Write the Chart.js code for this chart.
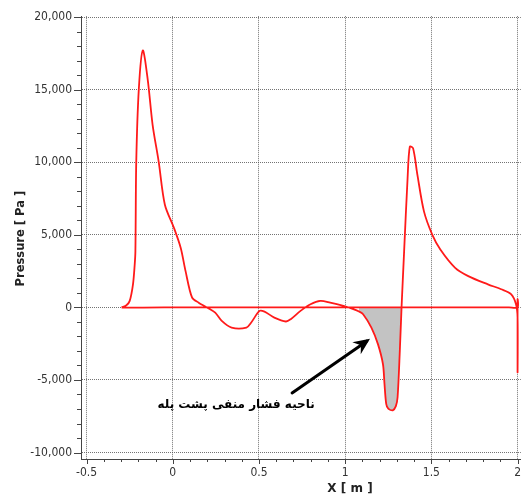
<!DOCTYPE html>
<html>
<head>
<meta charset="utf-8">
<script src="https://cdn.jsdelivr.net/npm/chart.js@4.4.0/dist/chart.umd.min.js"></script>
<style>
  html, body { margin: 0; padding: 0; background: #fff; }
</style>
</head>
<body>
<canvas id="myChart" width="528" height="498"></canvas>
<script>
// pressure along the surface, read off the picture as one closed loop:
// upper side from the nose, down the trailing edge at x = 2, back along the flat side
const surfaceX = [
  -0.297, -0.269, -0.250, -0.231, -0.221, -0.217, -0.212, -0.197, -0.174, -0.145,
  -0.117, -0.082, -0.046, 0.007, 0.046, 0.074, 0.112, 0.150, 0.198, 0.246,
  0.284, 0.341, 0.427, 0.455, 0.503, 0.532, 0.589, 0.656, 0.684, 0.741,
  0.799, 0.856, 0.913, 0.990, 1.047, 1.080, 1.104, 1.152, 1.190, 1.219,
  1.228, 1.238, 1.250, 1.276, 1.294, 1.304, 1.317, 1.327, 1.342, 1.362,
  1.375, 1.394, 1.419, 1.457, 1.505, 1.552, 1.638, 1.714, 1.828, 1.905,
  1.962, 1.991, 2.000, 2.000, 2.000, 2.000, 1.950, 1.500, 1.000, 0.500,
  0.000, -0.050, -0.297
]
const surfacePressure = [
  0, 150, 450, 1590, 2960, 3880, 10050, 15080, 17710, 15650,
  12570, 10050, 7080, 5470, 4100, 2500, 670, 330, 0, -360,
  -930, -1390, -1390, -1040, -240, -290, -700, -970, -810, -240,
  220, 450, 330, 100, -120, -280, -470, -1390, -2530, -3900,
  -5270, -6640, -6980, -7090, -6800, -6190, -2990, 0, 3880, 8900,
  11080, 10960, 9140, 6620, 5020, 3990, 2730, 2160, 1590, 1250,
  910, 220, -700, -4470, 550, 0, 0, 0, 0, 0,
  0, 0, -20
]

const xTicks = [-0.5, 0, 0.5, 1, 1.5, 2]
const yTicks = [-10000, -5000, 0, 5000, 10000, 15000, 20000]

// shaded negative pressure region behind the step
const shadeFrom = 1.08
const shadeTo = 1.33

const noteText = 'ناحیه فشار منفی پشت پله'
const xTitle = 'X [ m ]'
const yTitle = 'Pressure [ Pa ]'

const points = surfaceX.map((x, i) => ({ x: x, y: surfacePressure[i] }))
// only the upper side dips below zero in this range
const shaded = points.filter(p => p.x >= shadeFrom && p.x <= shadeTo && p.y < 0 || (p.x === 1.327))

const fontTicks = '"DejaVu Sans Condensed", "DejaVu Sans", sans-serif'

// minor ticks, axis titles and the note with its arrow
const decor = {
  id: 'decor',
  afterDraw(chart) {
    const { ctx, chartArea } = chart
    const x = chart.scales.x
    const y = chart.scales.y
    ctx.save()

    ctx.strokeStyle = '#444'
    ctx.lineWidth = 1
    ctx.beginPath()
    for (let i = 0; i <= 25; i++) {
      const px = Math.round(x.getPixelForValue(-0.5 + i * 0.1)) + 0.5
      ctx.moveTo(px, chartArea.bottom)
      ctx.lineTo(px, chartArea.bottom + (i % 5 === 0 ? 5 : 3))
    }
    for (let i = 0; i <= 30; i++) {
      const py = Math.round(y.getPixelForValue(-10000 + i * 1000)) + 0.5
      ctx.moveTo(chartArea.left, py)
      ctx.lineTo(chartArea.left - (i % 5 === 0 ? 7 : 4), py)
    }
    ctx.stroke()

    ctx.fillStyle = '#222'
    ctx.font = 'bold 12px "DejaVu Sans", sans-serif'
    ctx.textAlign = 'center'
    ctx.textBaseline = 'middle'
    ctx.fillText(xTitle, 350, 489)
    ctx.save()
    ctx.translate(21, (chartArea.top + chartArea.bottom) / 2 + 1)
    ctx.rotate(-Math.PI / 2)
    ctx.font = 'bold 11.5px "DejaVu Sans", sans-serif'
    ctx.fillText(yTitle, 0, 0)
    ctx.restore()

    // arrow pointing at the shaded region
    const x0 = x.getPixelForValue(0.692)
    const y0 = y.getPixelForValue(-5897)
    const x1 = x.getPixelForValue(1.144)
    const y1 = y.getPixelForValue(-2167)
    const ang = Math.atan2(y1 - y0, x1 - x0)
    ctx.strokeStyle = '#000'
    ctx.fillStyle = '#000'
    ctx.lineWidth = 3
    ctx.lineCap = 'round'
    ctx.beginPath()
    ctx.moveTo(x0, y0)
    ctx.lineTo(x1 - 4 * Math.cos(ang), y1 - 4 * Math.sin(ang))
    ctx.stroke()
    ctx.beginPath()
    ctx.moveTo(x1, y1)
    ctx.lineTo(x1 - 18 * Math.cos(ang - 0.42), y1 - 18 * Math.sin(ang - 0.42))
    ctx.lineTo(x1 - 11 * Math.cos(ang), y1 - 11 * Math.sin(ang))
    ctx.lineTo(x1 - 18 * Math.cos(ang + 0.42), y1 - 18 * Math.sin(ang + 0.42))
    ctx.closePath()
    ctx.fill()

    ctx.font = 'bold 12px "DejaVu Sans", sans-serif'
    ctx.fillText(noteText, x.getPixelForValue(0.367), y.getPixelForValue(-6740))
    ctx.restore()
  }
}

const ctx = document.getElementById('myChart')

new Chart(ctx, {
  type: 'line',
  data: {
    datasets: [{
      data: points,
      borderColor: '#ff1a1a',
      borderWidth: 1.8,
      pointRadius: 0,
      tension: 0.3,
      fill: false
    }, {
      data: shaded,
      borderWidth: 0,
      borderColor: 'rgba(0,0,0,0)',
      backgroundColor: '#c3c3c3',
      pointRadius: 0,
      tension: 0.3,
      fill: 'origin'
    }]
  },
  options: {
    responsive: false,
    animation: false,
    events: [],
    layout: { padding: { top: 14, right: 1, left: 0, bottom: 0 } },
    plugins: {
      legend: { display: false },
      tooltip: { enabled: false }
    },
    scales: {
      x: {
        type: 'linear',
        min: -0.5326,
        max: 2.0189,
        afterBuildTicks: (scale) => { scale.ticks = xTicks.map(v => ({ value: v })) },
        afterFit: (scale) => { scale.height = 39 },
        ticks: {
          autoSkip: false,
          maxRotation: 0,
          padding: 7,
          color: '#333',
          font: { family: fontTicks, size: 12 },
          callback: (v) => String(v)
        },
        grid: { color: 'rgba(80,80,80,0.8)', lineWidth: 1, drawTicks: false },
        border: { color: '#444', width: 1, dash: [1, 1] }
      },
      y: {
        type: 'linear',
        min: -10445.7,
        max: 20068.6,
        afterBuildTicks: (scale) => { scale.ticks = yTicks.map(v => ({ value: v })) },
        afterFit: (scale) => { scale.width = 81 },
        ticks: {
          autoSkip: false,
          padding: 9,
          color: '#333',
          font: { family: fontTicks, size: 12 },
          callback: (v) => v.toLocaleString('en-US')
        },
        grid: { color: 'rgba(80,80,80,0.8)', lineWidth: 1, drawTicks: false },
        border: { color: '#444', width: 1, dash: [1, 1] }
      }
    }
  },
  plugins: [decor]
})
</script>
</body>
</html>
